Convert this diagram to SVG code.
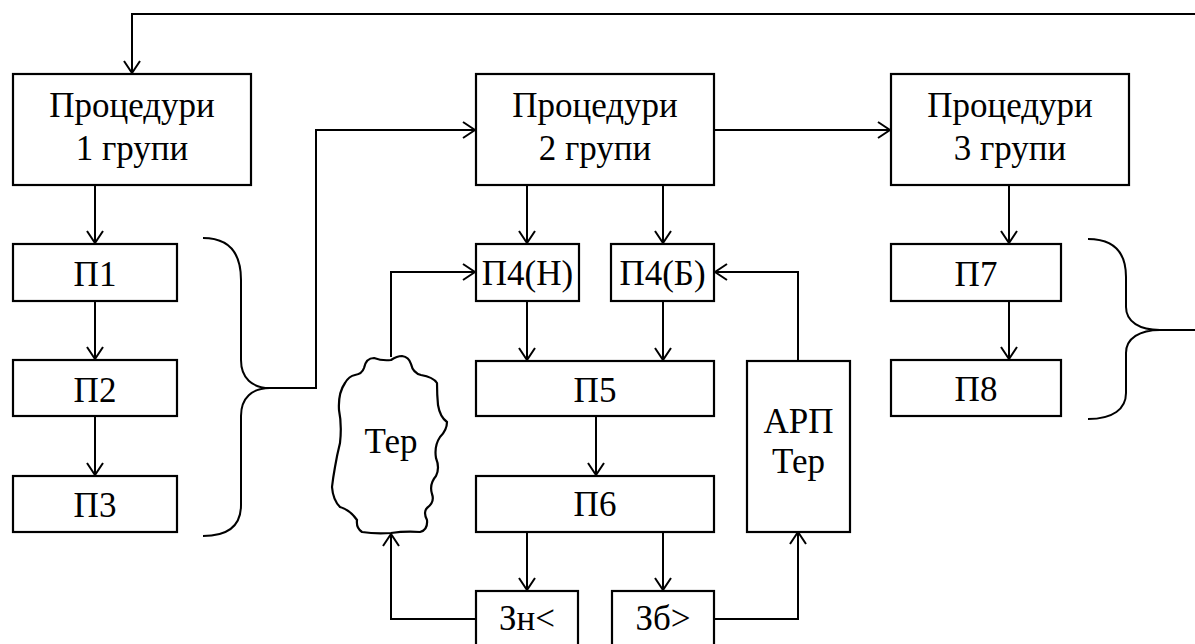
<svg xmlns="http://www.w3.org/2000/svg" width="1195" height="644" viewBox="0 0 1195 644">
<defs>
<marker id="arr" viewBox="0 0 14 18" refX="13" refY="9" markerWidth="14" markerHeight="18" markerUnits="userSpaceOnUse" orient="auto">
<path d="M1,1 L13,9 L1,17" fill="none" stroke="#000" stroke-width="2"/>
</marker>
<style>
.b{fill:#fff;stroke:#000;stroke-width:2.2}
.t{font-family:"Liberation Serif","Times New Roman",serif;font-size:35px;fill:#000;text-anchor:middle}
.c{fill:none;stroke:#000;stroke-width:2}
.a{fill:none;stroke:#000;stroke-width:2;marker-end:url(#arr)}
</style>
</defs>
<rect width="1195" height="644" fill="#fff"/>
<g id="connectors">
<path class="a" d="M1195,14 L132,14 L132,73"/>
<path class="a" d="M95,185 L95,243"/>
<path class="a" d="M95,301 L95,359"/>
<path class="a" d="M95,416 L95,475"/>
<path class="c" d="M203,238 C228,238 241,252 241,280 L241,360 C241,378 252,388 270,388 C252,388 241,398 241,416 L241,505 C241,526 228,536 203,536"/>
<path class="a" d="M270,388 L316,388 L316,130 L475,130"/>
<path class="a" d="M714,130 L890,130"/>
<path class="a" d="M1009,185 L1009,243"/>
<path class="a" d="M1009,301 L1009,359"/>
<path class="c" d="M1088,239 C1113,239 1126,252 1126,277 L1126,307 C1126,322 1140,330 1160,330 C1140,330 1126,338 1126,353 L1126,393 C1126,409 1113,419 1088,419 M1160,330 L1195,330"/>
<path class="a" d="M527,185 L527,243"/>
<path class="a" d="M663,185 L663,243"/>
<path class="a" d="M527,301 L527,360"/>
<path class="a" d="M663,301 L663,360"/>
<path class="a" d="M596,416 L596,475"/>
<path class="a" d="M527,532 L527,590"/>
<path class="a" d="M663,532 L663,590"/>
<path class="a" d="M391,357 L391,272 L475,272"/>
<path class="a" d="M798,361 L798,272 L715,272"/>
<path class="a" d="M476,619 L391,619 L391,534"/>
<path class="a" d="M714,619 L798,619 L798,532"/>
</g>
<g id="n-proc1"><rect class="b" x="13" y="74" width="238" height="111"/><text class="t" x="132" y="117">Процедури</text><text class="t" x="132" y="160">1 групи</text></g>
<g id="n-proc2"><rect class="b" x="476" y="74" width="238" height="111"/><text class="t" x="595" y="117">Процедури</text><text class="t" x="595" y="160">2 групи</text></g>
<g id="n-proc3"><rect class="b" x="891" y="74" width="238" height="111"/><text class="t" x="1010" y="117">Процедури</text><text class="t" x="1010" y="160">3 групи</text></g>
<g id="n-p1"><rect class="b" x="13" y="244" width="164" height="57"/><text class="t" x="95" y="286">П1</text></g>
<g id="n-p2"><rect class="b" x="13" y="360" width="164" height="56"/><text class="t" x="95" y="402">П2</text></g>
<g id="n-p3"><rect class="b" x="13" y="476" width="164" height="56"/><text class="t" x="95" y="517">П3</text></g>
<g id="n-p4n"><rect class="b" x="476" y="244" width="103" height="57"/><text class="t" x="527.5" y="285">П4(Н)</text></g>
<g id="n-p4b"><rect class="b" x="611" y="244" width="103" height="57"/><text class="t" x="662.5" y="285">П4(Б)</text></g>
<g id="n-p5"><rect class="b" x="476" y="361" width="238" height="55"/><text class="t" x="595" y="402">П5</text></g>
<g id="n-p6"><rect class="b" x="476" y="476" width="238" height="56"/><text class="t" x="595" y="516">П6</text></g>
<g id="n-zn"><rect class="b" x="476" y="591" width="102" height="70"/><text class="t" x="527" y="630">Зн&lt;</text></g>
<g id="n-zb"><rect class="b" x="612" y="591" width="102" height="70"/><text class="t" x="663" y="630">Зб&gt;</text></g>
<g id="n-arp"><rect class="b" x="747" y="361" width="103" height="171"/><text class="t" x="798.5" y="433">АРП</text><text class="t" x="798.5" y="473">Тер</text></g>
<g id="n-p7"><rect class="b" x="891" y="244" width="170" height="57"/><text class="t" x="976" y="286">П7</text></g>
<g id="n-p8"><rect class="b" x="891" y="360" width="170" height="56"/><text class="t" x="976" y="401">П8</text></g>
<g id="n-ter">
<path class="b" stroke-width="2.4" d="M345,383 Q349,376 355,375 Q362,374 364,368 Q366,358 374,358 Q382,361 391,360 Q397,356 402,356 Q409,357 411,364 Q413,373 421,375 Q433,377 437,383 Q437,395 438,405 Q440,417 447,422 Q447,430 440,437 Q434,446 436,458 Q440,468 436,476 Q429,484 432,494 Q435,502 427,508 Q423,512 427,520 Q428,530 420,532 Q405,531 391,533 Q375,534 362,532 Q356,528 357,520 Q350,510 340,507 Q333,500 332,487 Q333,478 335,467 Q337,455 340,443 Q342,425 339,410 Q338,393 345,383 Z"/>
<text class="t" x="391" y="453">Тер</text>
</g>
</svg>
